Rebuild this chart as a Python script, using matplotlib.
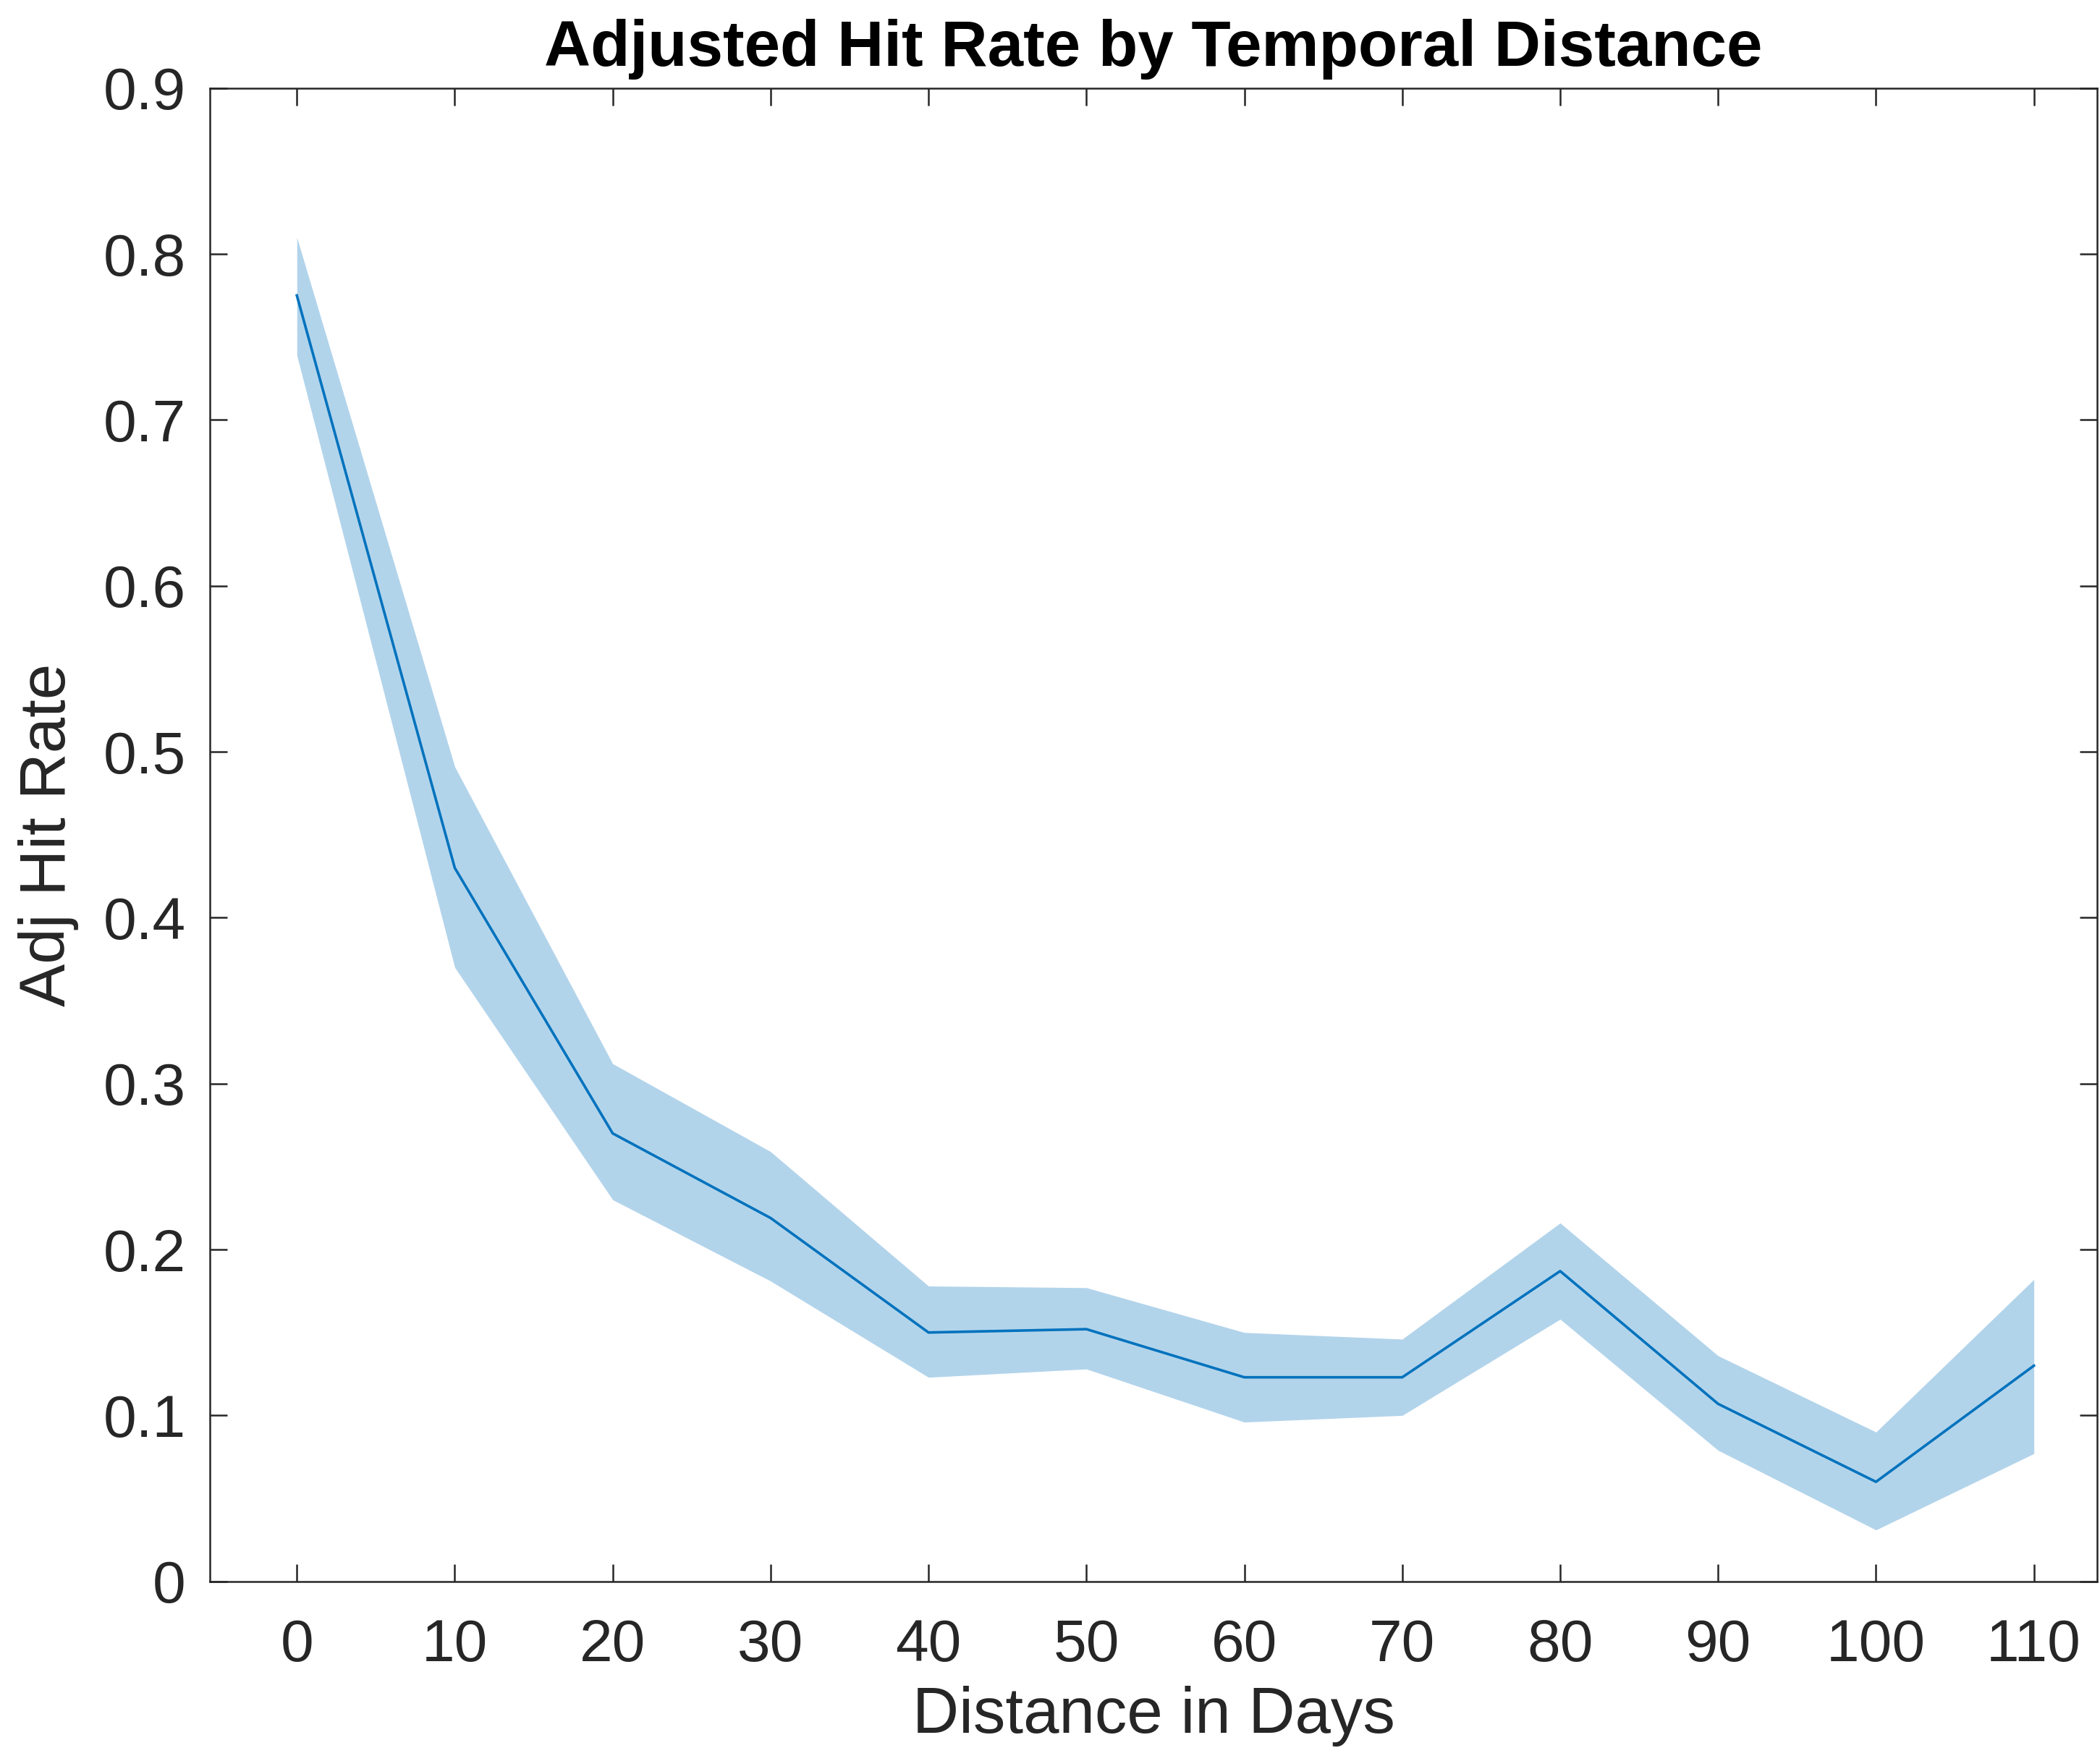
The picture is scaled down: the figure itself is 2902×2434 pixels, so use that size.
import numpy as np
import matplotlib
matplotlib.use('Agg')
import matplotlib.pyplot as plt

plt.rcParams['font.family'] = ['Liberation Sans', 'DejaVu Sans']

# distance in days and adjusted hit rate with its confidence band
days = [0, 10, 20, 30, 40, 50, 60, 70, 80, 90, 100, 110]
hit_rate = [0.775, 0.430, 0.270, 0.219, 0.150, 0.152, 0.123, 0.123, 0.187, 0.107, 0.060, 0.130]
upper = [0.810, 0.491, 0.312, 0.259, 0.178, 0.177, 0.150, 0.146, 0.216, 0.136, 0.090, 0.182]
lower = [0.739, 0.370, 0.230, 0.181, 0.123, 0.128, 0.096, 0.100, 0.158, 0.079, 0.031, 0.077]

line_col = '#0072BD'
axis_col = '#262626'

fig = plt.figure(figsize=(29.02, 24.34), dpi=100)
ax = fig.add_axes([0.100, 0.102, 0.8986, 0.848])

ax.fill_between(days, lower, upper, color=line_col, alpha=0.3, linewidth=0)
ax.plot(days, hit_rate, color=line_col, linewidth=2.6)

ax.set_xlim(-5.5, 114)
ax.set_ylim(0, 0.9)
ax.set_xticks(np.arange(0, 111, 10))
ax.set_yticks(np.arange(0, 0.91, 0.1))
ax.set_yticklabels(['0'] + ['%.1f' % v for v in np.arange(0.1, 0.91, 0.1)])

for s in ax.spines.values():
    s.set_color(axis_col)
    s.set_linewidth(1.8)
ax.tick_params(direction='in', length=17, width=1.8, colors=axis_col,
               labelsize=59, top=True, right=True)
ax.tick_params(axis='x', pad=37)
ax.tick_params(axis='y', pad=24)

ax.set_title('Adjusted Hit Rate by Temporal Distance', fontsize=64,
             fontweight='bold', pad=22)
ax.set_xlabel('Distance in Days', fontsize=64, color=axis_col, labelpad=12)
ax.set_ylabel('Adj Hit Rate', fontsize=64, color=axis_col, labelpad=24)

fig.savefig('out.png', dpi=100)
